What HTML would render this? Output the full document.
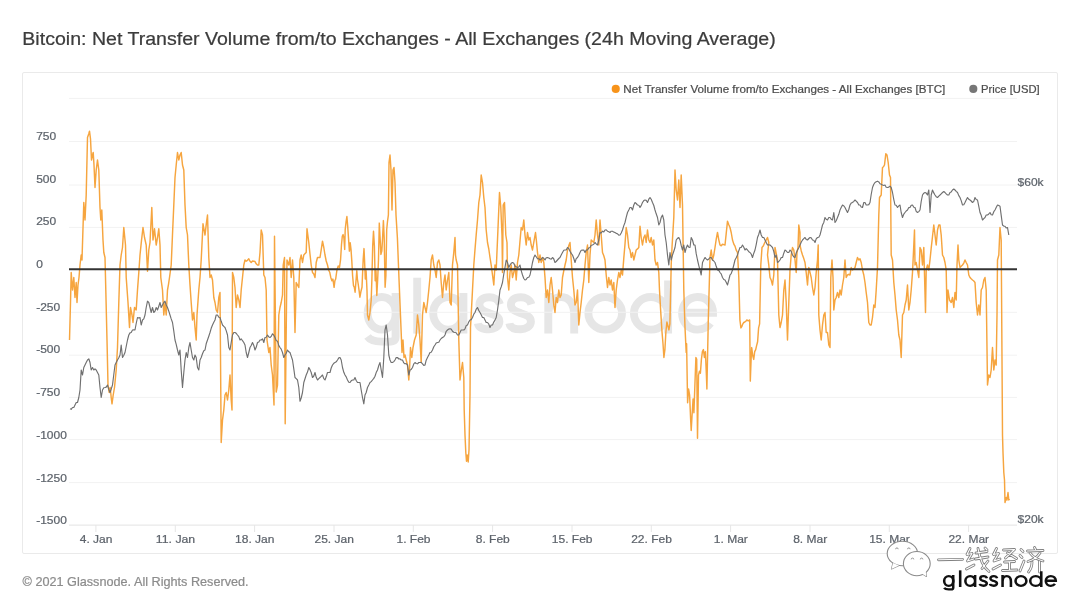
<!DOCTYPE html>
<html><head><meta charset="utf-8">
<style>
html,body{margin:0;padding:0;background:#fff;width:1080px;height:608px;overflow:hidden;font-family:"Liberation Sans",sans-serif;}
#box{position:absolute;left:22px;top:72px;width:1036px;height:482px;border:1px solid #eaeaea;border-radius:2px;box-sizing:border-box;}
svg{position:absolute;left:0;top:0;}
body{filter:blur(0.45px);}
</style></head><body>
<div id="box"></div>
<svg width="1080" height="608" viewBox="0 0 1080 608" font-family="Liberation Sans, sans-serif">
<style>text{stroke:currentColor;stroke-width:0.22px;}</style>
<g fill="none" stroke="#e6e6e6" stroke-width="7.9"><path d="M395.6,293 V337 C395.6,343 389,341.6 381.5,341.6 C375,341.6 370,340 367.5,336.5"/><path d="M367.6,313.3 a14.2,16.3 0 1 0 28.4,0 a14.2,16.3 0 1 0 -28.4,0"/><path d="M417.2,277.7 V333.6"/><path d="M463.4,293 V333.6 M433.2,313.3 a15.1,16.3 0 1 0 30.2,0 a15.1,16.3 0 1 0 -30.2,0"/><path d="M499.9,304.3 C498.4,299.3 493.4,297.3 489.4,297.3 C482.4,297.3 479.4,300.3 479.4,304.8 C479.4,310.3 485.4,311.8 489.4,313.3 C494.4,314.8 499.4,316.3 499.4,321.8 C499.4,326.8 493.4,329.3 489.4,329.3 C481.4,329.3 478.4,326.3 477.9,323.3"/><path d="M531.4,304.3 C529.9,299.3 524.9,297.3 520.9,297.3 C513.9,297.3 510.9,300.3 510.9,304.8 C510.9,310.3 516.9,311.8 520.9,313.3 C525.9,314.8 530.9,316.3 530.9,321.8 C530.9,326.8 524.9,329.3 520.9,329.3 C512.9,329.3 509.9,326.3 509.4,323.3"/><path d="M548.3,293 V333.6 M548.3,315.3 C548.3,303.3 554,297.0 561.2,297.0 C568.5,297.0 574.2,303.3 574.2,315.3 V333.6"/><path d="M588.4000000000001,313.3 a16.8,16.3 0 1 0 33.6,0 a16.8,16.3 0 1 0 -33.6,0"/><path d="M668.1,280.5 V333.6 M633.9,313.3 a17,16.3 0 1 0 34,0 a17,16.3 0 1 0 -34,0"/><path d="M681.9,312.8 H713 C713,303.3 706,297.0 697.45,297.0 C688.5,297.0 682.1,304.3 682.1,313.3 C682.1,322.3 688.5,329.6 697.45,329.6 C703.5,329.6 708,326.8 710.5,323.3"/></g>
<line x1="69" x2="1017" y1="98.4" y2="98.4" stroke="#f2f2f2" stroke-width="1"/>
<line x1="69" x2="1017" y1="141.5" y2="141.5" stroke="#f2f2f2" stroke-width="1"/>
<line x1="69" x2="1017" y1="185.0" y2="185.0" stroke="#f2f2f2" stroke-width="1"/>
<line x1="69" x2="1017" y1="227.4" y2="227.4" stroke="#f2f2f2" stroke-width="1"/>
<line x1="69" x2="1017" y1="312.3" y2="312.3" stroke="#f2f2f2" stroke-width="1"/>
<line x1="69" x2="1017" y1="355.2" y2="355.2" stroke="#f2f2f2" stroke-width="1"/>
<line x1="69" x2="1017" y1="397.4" y2="397.4" stroke="#f2f2f2" stroke-width="1"/>
<line x1="69" x2="1017" y1="439.6" y2="439.6" stroke="#f2f2f2" stroke-width="1"/>
<line x1="69" x2="1017" y1="482.6" y2="482.6" stroke="#f2f2f2" stroke-width="1"/>
<line x1="69" x2="1017" y1="525.1" y2="525.1" stroke="#e3e3e3" stroke-width="1"/>
<line x1="95.9" x2="95.9" y1="525" y2="532" stroke="#e6e6e6" stroke-width="1"/>
<line x1="175.3" x2="175.3" y1="525" y2="532" stroke="#e6e6e6" stroke-width="1"/>
<line x1="254.6" x2="254.6" y1="525" y2="532" stroke="#e6e6e6" stroke-width="1"/>
<line x1="334.0" x2="334.0" y1="525" y2="532" stroke="#e6e6e6" stroke-width="1"/>
<line x1="413.3" x2="413.3" y1="525" y2="532" stroke="#e6e6e6" stroke-width="1"/>
<line x1="492.6" x2="492.6" y1="525" y2="532" stroke="#e6e6e6" stroke-width="1"/>
<line x1="572.0" x2="572.0" y1="525" y2="532" stroke="#e6e6e6" stroke-width="1"/>
<line x1="651.3" x2="651.3" y1="525" y2="532" stroke="#e6e6e6" stroke-width="1"/>
<line x1="730.6" x2="730.6" y1="525" y2="532" stroke="#e6e6e6" stroke-width="1"/>
<line x1="810.0" x2="810.0" y1="525" y2="532" stroke="#e6e6e6" stroke-width="1"/>
<line x1="889.3" x2="889.3" y1="525" y2="532" stroke="#e6e6e6" stroke-width="1"/>
<line x1="968.6" x2="968.6" y1="525" y2="532" stroke="#e6e6e6" stroke-width="1"/>
<text x="36.2" y="139.99" font-size="11.3" fill="#5d636b" color="#5d636b" textLength="20.02" lengthAdjust="spacingAndGlyphs">750</text>
<text x="36.2" y="182.68" font-size="11.3" fill="#5d636b" color="#5d636b" textLength="20.02" lengthAdjust="spacingAndGlyphs">500</text>
<text x="36.2" y="225.37" font-size="11.3" fill="#5d636b" color="#5d636b" textLength="20.02" lengthAdjust="spacingAndGlyphs">250</text>
<text x="36.2" y="268.06" font-size="11.3" fill="#5d636b" color="#5d636b" textLength="6.67" lengthAdjust="spacingAndGlyphs">0</text>
<text x="36.2" y="310.75" font-size="11.3" fill="#5d636b" color="#5d636b" textLength="24.02" lengthAdjust="spacingAndGlyphs">-250</text>
<text x="36.2" y="353.44" font-size="11.3" fill="#5d636b" color="#5d636b" textLength="24.02" lengthAdjust="spacingAndGlyphs">-500</text>
<text x="36.2" y="396.13" font-size="11.3" fill="#5d636b" color="#5d636b" textLength="24.02" lengthAdjust="spacingAndGlyphs">-750</text>
<text x="36.2" y="438.82" font-size="11.3" fill="#5d636b" color="#5d636b" textLength="30.69" lengthAdjust="spacingAndGlyphs">-1000</text>
<text x="36.2" y="481.51" font-size="11.3" fill="#5d636b" color="#5d636b" textLength="30.69" lengthAdjust="spacingAndGlyphs">-1250</text>
<text x="36.2" y="524.20" font-size="11.3" fill="#5d636b" color="#5d636b" textLength="30.69" lengthAdjust="spacingAndGlyphs">-1500</text>
<text x="79.76" y="542.9" font-size="11.3" fill="#5d636b" color="#5d636b" textLength="32.69" lengthAdjust="spacingAndGlyphs">4. Jan</text>
<text x="155.82" y="542.9" font-size="11.3" fill="#5d636b" color="#5d636b" textLength="39.36" lengthAdjust="spacingAndGlyphs">11. Jan</text>
<text x="235.12" y="542.9" font-size="11.3" fill="#5d636b" color="#5d636b" textLength="39.36" lengthAdjust="spacingAndGlyphs">18. Jan</text>
<text x="314.52" y="542.9" font-size="11.3" fill="#5d636b" color="#5d636b" textLength="39.36" lengthAdjust="spacingAndGlyphs">25. Jan</text>
<text x="396.49" y="542.9" font-size="11.3" fill="#5d636b" color="#5d636b" textLength="34.02" lengthAdjust="spacingAndGlyphs">1. Feb</text>
<text x="475.79" y="542.9" font-size="11.3" fill="#5d636b" color="#5d636b" textLength="34.02" lengthAdjust="spacingAndGlyphs">8. Feb</text>
<text x="551.85" y="542.9" font-size="11.3" fill="#5d636b" color="#5d636b" textLength="40.69" lengthAdjust="spacingAndGlyphs">15. Feb</text>
<text x="631.15" y="542.9" font-size="11.3" fill="#5d636b" color="#5d636b" textLength="40.69" lengthAdjust="spacingAndGlyphs">22. Feb</text>
<text x="713.80" y="542.9" font-size="11.3" fill="#5d636b" color="#5d636b" textLength="34.01" lengthAdjust="spacingAndGlyphs">1. Mar</text>
<text x="793.20" y="542.9" font-size="11.3" fill="#5d636b" color="#5d636b" textLength="34.01" lengthAdjust="spacingAndGlyphs">8. Mar</text>
<text x="869.16" y="542.9" font-size="11.3" fill="#5d636b" color="#5d636b" textLength="40.68" lengthAdjust="spacingAndGlyphs">15. Mar</text>
<text x="948.46" y="542.9" font-size="11.3" fill="#5d636b" color="#5d636b" textLength="40.68" lengthAdjust="spacingAndGlyphs">22. Mar</text>
<text x="1017.6" y="185.6" font-size="11.3" fill="#5d636b" color="#5d636b" textLength="26.02" lengthAdjust="spacingAndGlyphs">$60k</text>
<text x="1017.6" y="523.3" font-size="11.3" fill="#5d636b" color="#5d636b" textLength="26.02" lengthAdjust="spacingAndGlyphs">$20k</text>
<text x="22.3" y="44.6" font-size="18" fill="#3c3c3c" color="#3c3c3c" textLength="753.4" lengthAdjust="spacingAndGlyphs">Bitcoin: Net Transfer Volume from/to Exchanges - All Exchanges (24h Moving Average)</text>
<text x="22.6" y="586.1" font-size="12.6" fill="#8c8c8c" color="#8c8c8c" textLength="226" lengthAdjust="spacingAndGlyphs">© 2021 Glassnode. All Rights Reserved.</text>
<circle cx="615.75" cy="88.9" r="4.05" fill="#f7931a"/>
<text x="623.3" y="92.8" font-size="10.7" fill="#4d4d4d" color="#4d4d4d" textLength="322" lengthAdjust="spacingAndGlyphs">Net Transfer Volume from/to Exchanges - All Exchanges [BTC]</text>
<circle cx="973.3" cy="88.9" r="4.05" fill="#767676"/>
<text x="981" y="92.8" font-size="10.7" fill="#4d4d4d" color="#4d4d4d" textLength="58.6" lengthAdjust="spacingAndGlyphs">Price [USD]</text>
<path d="M69.5,340.0 L70.5,302.5 L71.2,272.5 L72.5,290.0 L73.8,277.5 L75.0,297.5 L76.2,282.5 L77.0,302.5 L78.0,285.0 L79.0,277.5 L80.0,265.0 L81.2,255.0 L82.0,260.0 L83.8,202.5 L85.0,220.0 L86.2,195.0 L87.5,137.5 L88.8,133.8 L89.5,131.2 L90.5,138.8 L91.5,160.0 L92.5,155.0 L93.2,152.5 L94.0,165.0 L95.0,187.5 L96.2,170.0 L97.5,160.0 L98.8,170.0 L100.0,207.5 L100.8,220.0 L101.8,210.0 L103.0,240.0 L103.8,252.5 L105.0,257.5 L105.8,290.0 L107.0,340.0 L108.0,385.0 L109.2,392.5 L110.2,387.5 L111.2,397.5 L112.0,403.8 L113.2,395.0 L114.5,387.5 L116.2,370.0 L117.5,347.5 L118.8,302.5 L120.0,265.0 L121.2,255.0 L122.5,247.5 L123.8,227.5 L125.5,245.0 L126.2,277.5 L128.0,302.5 L129.5,327.5 L130.5,307.5 L132.0,315.0 L133.0,322.5 L134.5,307.5 L136.2,310.0 L137.5,290.0 L138.8,272.5 L140.0,255.0 L141.5,240.4 L143.0,227.5 L144.5,237.5 L146.2,245.0 L147.5,271.2 L148.8,250.0 L150.0,242.5 L151.8,207.5 L153.0,240.0 L154.5,228.8 L156.2,245.0 L157.5,237.6 L158.8,228.8 L160.0,245.0 L160.8,277.5 L162.5,290.0 L163.8,315.0 L165.0,302.5 L166.2,315.0 L167.5,290.0 L168.5,284.3 L169.5,277.5 L171.2,265.0 L172.5,234.5 L173.8,205.0 L175.0,177.5 L176.2,165.0 L177.5,152.5 L178.8,160.0 L180.0,155.0 L181.2,152.5 L182.5,165.0 L183.8,170.0 L185.0,205.0 L186.2,227.5 L187.5,235.0 L188.8,265.0 L190.0,285.0 L191.2,302.5 L192.5,320.0 L193.8,312.5 L195.0,327.5 L196.2,340.0 L197.0,315.0 L198.8,290.0 L200.0,277.5 L201.2,260.0 L203.0,223.8 L204.0,229.4 L205.0,235.0 L206.2,224.9 L207.5,215.0 L208.8,257.5 L210.0,277.5 L211.2,275.0 L212.5,280.0 L213.8,297.5 L215.0,302.5 L216.2,310.0 L217.5,312.5 L218.8,297.5 L220.0,292.5 L221.2,442.5 L222.5,420.0 L223.8,410.0 L225.0,395.0 L226.2,392.5 L227.5,400.0 L228.8,390.0 L230.0,375.0 L231.2,400.0 L232.0,410.0 L232.5,272.5 L233.8,277.5 L235.0,287.5 L236.2,307.5 L237.5,295.0 L238.8,300.0 L240.0,307.5 L241.2,290.0 L242.5,277.5 L243.8,265.0 L245.0,260.0 L246.2,261.2 L247.5,260.3 L248.8,258.8 L250.0,261.3 L251.2,262.5 L252.5,261.0 L253.8,261.2 L255.0,261.5 L256.2,263.8 L257.5,265.1 L258.8,265.0 L260.0,252.5 L261.2,230.0 L262.5,235.0 L263.8,275.0 L265.0,277.5 L266.2,290.0 L267.0,340.0 L268.8,352.5 L270.0,347.5 L271.2,365.0 L272.5,375.0 L274.0,405.0 L274.5,236.2 L276.2,392.0 L277.5,385.0 L278.8,315.0 L280.0,307.5 L281.2,302.5 L282.5,295.0 L283.2,265.0 L284.5,257.5 L285.2,423.8 L287.0,260.0 L288.8,265.0 L290.0,257.5 L291.2,277.5 L292.5,260.0 L293.8,277.5 L295.0,332.5 L296.2,282.5 L297.5,285.0 L298.8,287.5 L300.0,260.0 L301.2,255.0 L302.5,262.5 L303.8,255.0 L305.0,253.6 L306.2,252.5 L307.0,228.8 L308.8,242.5 L310.0,254.3 L311.2,265.0 L312.5,272.5 L313.8,273.9 L315.0,277.5 L316.2,262.5 L317.5,257.5 L318.8,257.4 L320.0,257.5 L321.2,249.9 L322.5,241.2 L323.8,247.5 L325.0,255.0 L326.2,261.0 L327.5,265.0 L328.6,270.0 L329.7,272.2 L330.8,277.4 L331.9,280.7 L332.9,279.0 L334.1,287.3 L334.9,280.7 L335.7,279.0 L336.8,270.8 L338.2,265.9 L339.5,267.5 L340.6,259.3 L341.5,244.5 L342.3,236.3 L343.1,234.6 L343.9,237.9 L344.7,249.4 L345.2,229.7 L346.1,221.5 L346.9,216.5 L347.7,226.4 L348.5,237.9 L349.4,251.1 L350.2,242.8 L351.0,249.4 L351.8,260.9 L352.6,275.8 L353.5,285.6 L354.3,287.3 L355.1,292.2 L355.9,282.3 L356.8,270.8 L357.4,279.0 L358.2,284.0 L359.1,290.6 L359.9,297.2 L361.0,291.2 L362.0,287.3 L363.2,259.3 L364.0,248.6 L364.5,259.3 L365.3,279.0 L366.1,270.8 L367.0,290.6 L367.5,315.0 L368.8,320.0 L370.0,312.5 L371.2,300.0 L371.9,279.0 L372.7,246.1 L373.5,231.3 L374.4,246.1 L375.2,280.7 L376.0,270.8 L376.8,295.5 L377.7,279.0 L378.5,259.3 L379.3,223.1 L380.1,237.9 L380.9,254.4 L381.8,251.1 L382.6,237.9 L383.4,220.6 L384.2,237.9 L385.1,287.3 L385.9,275.8 L386.7,229.7 L387.5,221.5 L388.4,214.9 L389.0,162.5 L390.0,155.0 L391.0,170.0 L392.0,210.0 L393.0,170.0 L394.0,167.5 L395.0,182.5 L396.0,215.0 L397.4,237.9 L399.0,279.0 L400.5,315.9 L402.0,352.5 L403.0,340.0 L404.0,357.5 L405.0,355.0 L406.2,360.0 L407.5,365.0 L408.8,380.0 L409.5,370.0 L410.5,347.5 L411.8,357.5 L413.0,347.5 L414.5,340.0 L416.2,335.0 L417.5,315.0 L418.8,325.0 L420.0,340.0 L421.2,362.5 L422.5,315.0 L423.8,302.5 L425.0,307.5 L426.2,312.5 L427.5,302.5 L428.8,290.0 L430.0,277.5 L431.2,260.0 L432.5,255.0 L433.8,265.0 L435.0,270.0 L436.2,277.5 L437.5,262.5 L438.8,260.0 L440.0,265.0 L441.2,282.5 L442.5,297.5 L443.8,282.5 L445.0,275.0 L446.2,290.0 L447.5,280.0 L448.8,272.5 L450.0,302.5 L451.2,305.0 L452.5,265.0 L453.8,252.2 L455.0,237.5 L455.5,255.0 L456.2,260.0 L457.5,265.0 L458.8,340.0 L460.0,380.0 L461.2,371.0 L462.5,362.5 L463.8,377.5 L464.2,410.0 L465.0,435.0 L465.8,452.5 L466.5,461.2 L467.2,455.0 L468.2,462.0 L469.0,450.0 L469.5,422.5 L470.0,395.0 L470.5,327.5 L471.2,315.0 L472.5,290.0 L473.8,265.0 L475.0,249.4 L476.2,234.8 L477.5,220.0 L478.8,202.5 L480.0,195.0 L481.2,175.0 L482.5,182.5 L483.8,197.5 L485.0,207.5 L486.2,230.0 L487.5,242.5 L488.8,249.0 L490.0,257.5 L491.2,265.0 L492.5,275.0 L493.8,285.0 L495.0,265.0 L496.2,270.0 L497.9,230.6 L499.5,192.5 L500.8,207.5 L502.0,235.0 L502.5,272.5 L503.2,205.0 L504.5,202.5 L505.8,235.0 L507.0,242.5 L507.5,277.5 L508.8,290.0 L510.0,272.5 L511.2,265.0 L512.5,277.5 L513.8,272.5 L515.0,265.0 L516.2,280.0 L517.5,262.5 L518.8,255.0 L520.0,241.1 L521.2,227.5 L522.5,230.0 L523.8,220.0 L525.0,235.0 L526.2,245.0 L527.5,232.5 L528.8,240.0 L530.0,237.5 L531.2,245.0 L532.5,250.0 L534.0,241.2 L535.5,232.5 L536.5,241.9 L537.5,252.5 L538.8,262.5 L540.0,255.0 L541.2,262.5 L542.5,257.5 L543.8,262.5 L545.0,277.5 L546.2,297.5 L547.5,290.0 L548.8,302.5 L550.0,285.0 L551.2,277.5 L552.5,290.0 L553.8,305.0 L555.0,312.5 L556.2,297.5 L557.5,302.5 L558.8,290.0 L560.0,297.5 L561.2,295.0 L562.5,277.5 L563.8,270.7 L565.0,265.0 L566.2,260.0 L567.5,250.0 L568.8,245.6 L570.0,242.5 L571.2,260.0 L572.5,277.5 L573.8,290.0 L575.0,305.0 L576.2,302.5 L577.5,290.0 L578.8,325.0 L580.0,312.5 L581.2,302.5 L582.5,290.0 L583.8,280.0 L585.0,265.0 L586.2,252.5 L587.5,245.0 L588.8,282.5 L590.0,255.0 L591.2,240.0 L592.5,241.2 L593.8,242.5 L595.0,235.0 L596.2,220.0 L597.5,235.0 L598.8,245.0 L600.0,220.0 L601.2,235.0 L602.5,252.5 L603.8,255.8 L605.0,260.0 L606.2,275.0 L607.5,287.5 L608.8,277.5 L610.0,285.0 L611.2,280.0 L612.5,290.0 L613.8,282.5 L615.0,307.5 L616.2,290.0 L617.5,280.0 L618.8,272.5 L620.0,277.5 L621.2,270.0 L622.5,275.0 L623.8,258.1 L625.0,244.1 L626.2,227.5 L627.5,235.0 L628.8,247.5 L630.0,250.0 L631.2,257.5 L632.5,252.5 L633.8,260.0 L635.0,255.0 L636.2,250.0 L637.5,248.9 L638.8,247.5 L640.0,226.2 L641.2,237.5 L642.5,245.0 L643.8,237.5 L645.0,235.0 L646.2,242.5 L647.5,230.0 L648.8,240.0 L650.0,242.5 L651.2,237.5 L652.5,245.0 L653.8,240.0 L655.0,260.0 L656.2,265.0 L657.5,262.5 L658.8,272.5 L659.5,290.0 L660.7,311.2 L662.0,331.8 L663.0,343.7 L663.9,357.5 L664.9,349.6 L665.9,331.8 L666.9,322.0 L667.9,325.9 L668.9,329.9 L669.9,323.9 L671.2,265.0 L672.0,247.5 L673.8,217.5 L675.0,170.0 L676.2,190.0 L677.5,200.0 L678.8,180.0 L680.0,207.5 L681.2,175.0 L682.5,205.0 L683.8,290.0 L685.0,327.5 L686.2,352.5 L686.6,343.7 L687.2,379.2 L687.6,402.8 L688.6,389.0 L689.6,395.0 L690.6,418.6 L691.2,430.5 L692.1,414.7 L693.1,398.9 L693.9,412.7 L695.1,379.2 L695.9,357.5 L696.7,359.4 L697.5,438.3 L698.5,375.2 L699.4,371.3 L700.4,373.3 L701.4,359.4 L702.4,351.6 L703.4,349.6 L704.4,357.5 L705.4,351.6 L706.4,375.2 L706.9,389.0 L707.7,349.6 L708.3,320.0 L710.0,257.5 L711.2,250.0 L712.5,260.0 L713.8,255.0 L715.0,247.5 L716.2,239.3 L717.5,232.5 L718.8,239.8 L720.0,245.0 L721.2,245.8 L722.5,244.2 L723.8,244.6 L725.0,245.0 L726.2,233.6 L727.5,221.2 L728.8,224.8 L730.0,227.5 L731.2,232.5 L732.5,240.0 L733.8,244.1 L735.0,246.1 L736.2,250.1 L737.5,252.5 L738.8,277.5 L739.9,320.0 L740.9,327.9 L741.9,326.3 L742.8,323.9 L743.8,322.5 L744.8,322.0 L745.8,321.2 L746.8,320.0 L748.3,320.8 L749.7,320.0 L750.3,381.1 L751.1,359.4 L751.7,347.6 L752.7,355.5 L753.7,359.4 L754.7,351.6 L755.7,349.6 L756.6,345.6 L757.6,341.7 L758.6,327.9 L759.6,323.9 L760.8,265.0 L762.0,247.5 L763.4,245.8 L764.8,242.5 L766.1,240.2 L767.5,237.5 L768.8,242.5 L767.5,255.0 L768.8,265.2 L770.0,277.5 L771.2,280.0 L772.5,285.0 L773.8,275.0 L775.0,247.5 L776.2,253.2 L777.5,260.0 L778.8,315.0 L780.0,327.5 L781.2,322.5 L782.5,315.0 L783.8,290.0 L785.0,280.0 L786.2,302.5 L787.5,340.0 L788.8,302.5 L790.0,270.0 L791.2,255.0 L792.5,247.5 L793.8,250.0 L795.0,260.0 L796.2,272.5 L797.0,252.5 L798.0,247.5 L798.8,225.0 L800.0,232.5 L800.0,245.0 L801.2,250.7 L802.5,255.0 L803.8,258.6 L805.0,262.5 L806.2,272.5 L807.5,285.0 L808.8,267.5 L810.0,272.5 L811.2,277.5 L812.5,287.5 L813.8,295.0 L815.0,287.5 L816.2,272.5 L817.5,260.0 L818.2,245.0 L818.8,315.0 L820.0,330.0 L821.2,340.0 L822.5,325.0 L823.8,315.0 L825.0,312.5 L826.2,332.5 L827.5,332.5 L828.8,345.0 L830.0,347.5 L830.8,277.5 L832.0,260.0 L833.0,277.5 L833.8,310.0 L835.0,300.0 L836.2,297.5 L837.5,292.5 L838.8,297.5 L840.0,290.0 L841.2,295.0 L842.5,285.0 L843.8,277.5 L845.0,260.0 L846.2,277.5 L847.5,275.0 L848.8,274.3 L850.0,275.0 L851.2,267.5 L852.5,270.0 L853.8,268.9 L855.0,267.5 L856.2,262.5 L857.5,257.5 L858.8,260.0 L860.0,258.8 L861.2,262.5 L862.5,270.0 L863.8,275.0 L865.0,282.5 L866.2,292.5 L867.5,302.5 L868.8,322.5 L870.0,325.0 L871.2,325.0 L872.5,317.5 L873.8,305.0 L875.0,307.5 L876.2,290.0 L877.5,267.5 L878.8,215.0 L879.5,197.5 L881.2,195.0 L882.5,167.5 L883.5,166.7 L884.5,165.0 L885.8,153.8 L887.0,155.0 L888.2,162.5 L889.5,175.0 L890.5,177.5 L891.2,255.0 L892.5,260.0 L893.8,282.5 L895.0,295.0 L896.2,310.0 L897.5,320.0 L898.8,335.0 L900.0,340.0 L901.2,357.5 L902.5,315.0 L903.8,312.5 L905.0,305.0 L906.2,300.0 L907.5,285.0 L908.8,310.0 L910.0,302.5 L911.2,290.0 L912.5,272.5 L913.5,251.6 L914.5,230.0 L915.0,265.0 L916.2,262.5 L917.5,270.0 L918.8,277.5 L920.0,247.5 L921.2,250.0 L922.5,265.0 L923.8,247.5 L925.5,312.5 L926.2,270.0 L927.5,265.0 L928.8,270.0 L930.0,260.0 L931.2,248.1 L932.5,236.5 L933.8,225.0 L935.0,235.0 L936.2,245.0 L937.5,230.0 L938.8,225.0 L940.0,225.0 L941.2,235.0 L942.5,255.0 L943.8,257.5 L945.0,262.5 L946.2,270.0 L947.0,312.5 L948.0,290.0 L949.5,300.0 L951.2,302.5 L952.5,297.5 L953.8,307.5 L955.0,292.5 L956.2,300.0 L957.0,265.0 L958.0,245.0 L958.8,260.0 L960.0,267.5 L961.2,266.3 L962.5,265.0 L963.8,263.1 L965.0,260.0 L966.2,262.5 L967.5,265.0 L968.8,275.0 L970.0,277.5 L971.2,278.8 L972.5,280.0 L973.8,281.0 L975.0,282.5 L976.2,302.5 L977.5,315.0 L978.8,305.0 L980.0,315.0 L981.2,290.0 L982.5,287.5 L983.8,280.0 L985.0,277.5 L986.2,290.0 L987.5,385.0 L988.8,375.0 L990.0,377.5 L991.2,370.0 L992.5,347.5 L993.8,370.0 L995.0,360.0 L996.2,365.0 L997.0,315.0 L997.5,260.0 L998.8,255.0 L1000.0,227.5 L1001.2,240.0 L1002.5,435.0 L1003.0,452.5 L1003.8,472.5 L1004.5,480.0 L1005.0,502.5 L1006.2,497.5 L1007.0,500.0 L1008.0,492.5 L1008.8,500.0 L1009.5,498.8" fill="none" stroke="#f6a53f" stroke-width="1.45" stroke-linejoin="round"/>
<path d="M70.0,408.8 L71.2,409.3 L72.5,407.5 L73.8,407.4 L75.0,405.0 L76.2,402.6 L77.5,402.5 L78.8,397.5 L80.0,390.0 L81.2,370.0 L82.5,375.0 L83.8,367.5 L85.0,365.0 L86.2,362.5 L87.5,360.0 L88.8,358.8 L90.0,362.5 L91.2,370.0 L92.5,367.5 L93.8,370.0 L95.0,368.8 L96.2,370.0 L97.5,372.5 L98.8,375.0 L100.0,387.5 L101.2,397.5 L102.5,390.0 L103.8,387.7 L105.0,387.5 L106.2,387.1 L107.5,385.0 L108.8,389.4 L110.0,392.5 L111.2,389.2 L112.5,385.0 L113.8,374.5 L115.0,365.0 L116.2,362.5 L117.5,360.0 L118.8,357.8 L120.0,355.0 L121.2,345.0 L122.5,357.5 L123.8,355.3 L125.0,352.5 L126.2,346.5 L127.5,340.0 L128.8,335.0 L130.0,332.9 L131.2,332.5 L132.5,330.0 L133.8,329.8 L135.0,330.0 L136.2,323.5 L137.5,317.5 L138.8,318.1 L140.0,317.5 L141.2,325.0 L142.5,320.0 L143.8,318.8 L145.0,315.0 L146.2,307.5 L147.5,301.2 L148.8,302.5 L150.0,307.5 L151.2,312.5 L152.5,307.5 L153.8,312.5 L155.0,311.2 L156.2,307.5 L157.5,310.0 L158.8,306.2 L160.0,302.5 L161.2,307.5 L162.5,305.0 L163.8,302.5 L165.0,301.2 L166.2,305.0 L167.5,307.5 L168.8,311.2 L170.0,315.0 L171.2,318.9 L172.5,322.5 L173.8,331.1 L175.0,340.0 L176.2,344.4 L177.5,350.0 L178.8,355.0 L180.0,350.0 L181.2,370.0 L182.5,387.5 L183.8,372.5 L185.0,360.0 L186.2,352.5 L187.5,357.5 L188.8,347.5 L190.0,342.5 L191.2,350.0 L192.5,357.5 L193.8,360.0 L195.0,355.0 L196.2,357.5 L197.5,367.5 L198.8,370.0 L200.0,360.0 L201.2,357.5 L202.5,353.8 L203.8,350.7 L205.0,350.0 L206.2,343.8 L207.5,340.0 L208.8,336.2 L210.0,332.5 L211.2,328.3 L212.5,325.0 L213.8,322.2 L215.0,320.0 L216.2,315.0 L217.5,315.0 L218.8,317.3 L220.0,317.5 L221.2,321.3 L222.5,325.0 L223.8,326.4 L225.0,327.5 L226.2,330.6 L227.5,335.0 L228.8,347.5 L230.0,350.0 L231.2,342.5 L232.5,335.0 L233.8,332.5 L235.0,332.5 L236.2,333.3 L237.5,335.0 L238.8,336.6 L240.0,340.0 L241.2,338.8 L242.5,340.7 L243.8,342.5 L245.0,345.0 L246.2,352.5 L247.5,357.5 L248.8,352.5 L250.0,347.5 L251.2,345.5 L252.5,342.5 L253.8,345.4 L255.0,350.0 L256.2,347.3 L257.5,342.5 L258.8,342.0 L260.0,340.0 L261.2,340.0 L262.5,338.8 L263.8,342.5 L265.0,337.5 L266.2,337.3 L267.5,335.0 L268.8,336.9 L270.0,337.5 L271.2,336.4 L272.5,333.8 L273.8,335.2 L275.0,337.5 L276.2,340.6 L277.5,341.2 L278.8,345.6 L280.0,347.5 L281.2,349.1 L282.5,352.5 L283.8,357.5 L285.0,355.0 L286.2,353.2 L287.5,350.0 L288.8,351.8 L290.0,352.5 L291.2,356.1 L292.5,360.0 L293.8,368.8 L295.0,377.5 L296.2,378.7 L297.5,380.0 L298.8,387.5 L300.0,401.2 L301.2,398.0 L302.5,392.5 L303.8,382.5 L305.0,378.8 L306.2,375.0 L307.5,372.1 L308.8,367.5 L310.0,369.6 L311.2,372.5 L312.5,377.5 L313.8,376.0 L315.0,372.5 L316.2,377.3 L317.5,380.0 L318.8,378.6 L320.0,377.5 L321.2,376.4 L322.5,375.0 L323.8,378.6 L325.0,380.0 L326.2,376.8 L327.5,372.5 L328.8,372.5 L330.0,372.5 L331.2,368.0 L332.5,365.0 L333.8,363.3 L335.0,362.5 L336.2,361.8 L337.5,360.0 L338.8,357.9 L340.0,357.5 L341.2,360.0 L342.5,367.5 L343.8,372.3 L345.0,375.0 L346.2,376.9 L347.5,380.0 L348.8,382.3 L350.0,382.5 L351.2,380.8 L352.5,380.0 L353.8,379.9 L355.0,377.5 L356.2,380.5 L357.5,382.5 L358.8,382.5 L360.0,382.5 L361.2,390.0 L362.5,397.5 L363.8,403.8 L365.0,395.0 L366.2,392.5 L367.5,387.5 L368.8,385.0 L370.0,382.5 L371.2,381.6 L372.5,380.0 L373.8,378.4 L375.0,376.2 L376.2,372.6 L377.5,370.0 L378.8,365.5 L380.0,362.5 L381.2,370.0 L382.5,377.5 L383.8,357.5 L385.0,330.0 L386.2,325.0 L387.5,335.0 L388.8,355.0 L390.0,360.0 L391.2,362.4 L392.5,362.5 L393.8,361.6 L395.0,360.0 L396.2,357.6 L397.5,357.5 L398.8,359.0 L400.0,358.8 L401.2,360.0 L402.5,360.0 L403.8,362.9 L405.0,363.8 L406.2,363.6 L407.5,365.0 L408.8,375.0 L410.0,370.0 L411.2,369.4 L412.5,367.5 L413.8,363.9 L415.0,362.5 L416.2,363.5 L417.5,363.8 L418.8,362.5 L420.0,362.5 L421.2,362.4 L422.5,363.8 L423.8,365.4 L425.0,365.0 L426.2,360.2 L427.5,357.5 L428.8,355.1 L430.0,352.5 L431.2,352.2 L432.5,350.0 L433.8,346.8 L435.0,345.0 L436.2,343.0 L437.5,342.5 L438.8,342.2 L440.0,340.0 L441.2,338.5 L442.5,337.5 L443.8,336.8 L445.0,335.0 L446.2,331.3 L447.5,330.0 L448.8,329.0 L450.0,328.8 L451.2,329.1 L452.5,331.2 L453.8,332.3 L455.0,332.5 L456.2,332.7 L457.5,335.0 L458.8,334.9 L460.0,332.5 L461.2,330.0 L462.5,330.0 L463.8,330.0 L465.0,328.8 L466.2,325.6 L467.5,325.0 L468.8,321.9 L470.0,320.0 L471.2,319.6 L472.5,317.5 L473.8,314.1 L475.0,312.5 L476.2,309.2 L477.5,307.5 L478.8,310.5 L480.0,312.5 L481.2,314.7 L482.5,317.5 L483.8,317.6 L485.0,320.0 L486.2,322.5 L487.5,322.5 L488.8,324.1 L490.0,327.5 L491.2,325.0 L492.5,325.0 L493.8,322.1 L495.0,320.0 L496.2,317.5 L497.5,310.0 L498.8,300.3 L500.0,290.0 L501.2,286.9 L502.5,282.5 L503.8,274.0 L505.0,267.5 L506.2,260.0 L507.5,262.5 L508.8,267.5 L510.0,265.0 L511.2,263.3 L512.5,262.5 L513.8,263.2 L515.0,266.2 L516.2,266.7 L517.5,267.5 L518.8,266.9 L520.0,265.0 L521.2,270.6 L522.5,275.0 L523.8,278.5 L525.0,280.0 L526.2,279.4 L527.5,277.5 L528.8,277.2 L530.0,275.0 L531.2,269.3 L532.5,262.5 L533.8,257.5 L535.0,255.0 L536.2,256.8 L537.5,258.8 L538.8,258.7 L540.0,260.0 L541.2,259.2 L542.5,257.5 L543.8,258.3 L545.0,260.0 L546.2,257.7 L547.5,257.5 L548.8,258.0 L550.0,258.8 L551.2,259.1 L552.5,257.5 L553.8,259.0 L555.0,262.5 L556.2,261.5 L557.5,260.0 L558.8,258.5 L560.0,257.5 L561.2,255.0 L562.5,252.5 L563.8,250.3 L565.0,250.0 L566.2,249.9 L567.5,247.5 L568.8,248.7 L570.0,251.2 L571.2,253.4 L572.5,255.0 L573.8,258.5 L575.0,262.5 L576.2,258.7 L577.5,257.5 L578.8,255.2 L580.0,252.5 L581.2,250.3 L582.5,250.0 L583.8,250.1 L585.0,252.5 L586.2,250.0 L587.5,250.0 L588.8,247.9 L590.0,247.5 L591.2,245.2 L592.5,245.0 L593.8,244.1 L595.0,242.5 L596.2,243.8 L597.5,245.0 L598.8,240.0 L600.0,232.5 L601.2,233.0 L602.5,231.2 L603.8,231.9 L605.0,230.0 L606.2,229.9 L607.5,231.2 L608.8,231.7 L610.0,232.5 L611.2,231.2 L612.5,231.2 L613.8,232.1 L615.0,232.5 L616.2,233.4 L617.5,233.8 L618.8,235.2 L620.0,235.0 L621.2,233.0 L622.5,230.0 L623.8,225.6 L625.0,222.5 L626.2,217.3 L627.5,212.5 L628.8,210.1 L630.0,207.5 L631.2,207.5 L632.5,210.0 L633.8,205.0 L635.0,202.5 L636.2,203.5 L637.5,205.0 L638.8,205.2 L640.0,207.5 L641.2,205.6 L642.5,202.5 L643.8,200.6 L645.0,200.0 L646.2,200.2 L647.5,202.5 L648.8,199.2 L650.0,197.5 L651.2,199.3 L652.5,202.5 L653.8,205.5 L655.0,210.0 L656.2,213.8 L657.5,217.5 L658.8,225.0 L660.0,222.5 L661.2,217.5 L662.5,215.0 L663.8,220.0 L665.0,235.0 L666.2,242.5 L667.5,255.0 L668.8,265.0 L670.0,252.5 L671.2,260.0 L672.5,255.0 L673.8,251.2 L675.0,247.5 L676.2,240.0 L677.5,238.3 L678.8,237.5 L680.0,240.0 L681.2,245.4 L682.5,250.0 L683.8,245.0 L685.0,252.5 L686.2,248.0 L687.5,245.0 L688.8,247.3 L690.0,247.5 L691.2,237.5 L692.5,240.0 L693.8,245.0 L695.0,245.0 L696.2,253.7 L697.5,260.0 L698.8,265.6 L700.0,270.0 L701.2,275.0 L702.5,262.5 L703.8,259.8 L705.0,257.5 L706.2,258.8 L707.5,260.0 L708.8,259.0 L710.0,257.5 L711.2,257.6 L712.5,260.0 L713.8,261.0 L715.0,262.5 L716.2,266.3 L717.5,270.0 L718.8,270.4 L720.0,272.5 L721.2,273.9 L722.5,277.5 L723.8,279.5 L725.0,280.0 L726.2,282.2 L727.5,285.0 L728.8,280.0 L730.0,275.0 L731.2,273.6 L732.5,270.0 L733.8,265.0 L735.0,260.0 L736.2,257.8 L737.5,255.0 L738.8,250.7 L740.0,247.5 L741.2,247.5 L742.5,245.0 L743.8,247.2 L745.0,250.0 L746.2,248.7 L747.5,250.0 L748.8,251.7 L750.0,252.5 L751.2,254.0 L752.5,257.5 L753.8,253.2 L755.0,250.0 L756.2,244.6 L757.5,237.5 L758.8,234.2 L760.0,230.0 L761.2,235.0 L762.5,237.5 L763.8,237.5 L765.0,240.0 L766.2,242.4 L767.5,245.0 L768.8,244.8 L770.0,245.0 L771.2,246.2 L772.5,247.5 L773.8,251.7 L775.0,257.5 L776.2,255.0 L777.5,262.5 L778.8,261.5 L780.0,260.0 L781.2,257.6 L782.5,257.5 L783.8,253.2 L785.0,250.0 L786.2,250.9 L787.5,252.5 L788.8,252.4 L790.0,250.0 L791.2,251.4 L792.5,255.0 L793.8,256.9 L795.0,257.5 L796.2,253.0 L797.5,250.0 L798.8,247.7 L800.0,245.0 L801.2,242.2 L802.5,240.0 L803.8,238.7 L805.0,237.5 L806.2,239.4 L807.5,240.0 L808.8,238.5 L810.0,237.5 L811.2,237.8 L812.5,240.0 L813.8,240.3 L815.0,242.5 L816.2,238.9 L817.5,237.5 L818.8,237.2 L820.0,235.0 L821.2,230.4 L822.5,225.0 L823.8,222.4 L825.0,217.5 L826.2,219.3 L827.5,220.0 L828.8,217.5 L830.0,217.5 L831.2,219.2 L832.5,220.0 L833.8,212.5 L835.0,222.5 L836.2,220.7 L837.5,217.5 L838.8,214.3 L840.0,210.0 L841.2,207.5 L842.5,205.0 L843.8,205.9 L845.0,207.5 L846.2,209.9 L847.5,212.5 L848.8,209.5 L850.0,205.0 L851.2,203.1 L852.5,202.5 L853.8,201.3 L855.0,200.0 L856.2,201.2 L857.5,202.5 L858.8,204.9 L860.0,205.0 L861.2,207.0 L862.5,207.5 L863.8,202.5 L865.0,202.5 L866.2,204.9 L867.5,205.0 L868.8,204.6 L870.0,202.5 L871.2,194.5 L872.5,187.5 L873.8,184.3 L875.0,182.5 L876.2,181.8 L877.5,181.2 L878.8,181.9 L880.0,183.8 L881.2,184.2 L882.5,185.0 L883.8,185.5 L885.0,185.0 L886.2,187.3 L887.5,187.5 L888.8,187.1 L890.0,186.2 L891.2,187.5 L892.5,192.5 L893.8,199.6 L895.0,205.0 L896.2,205.2 L897.5,207.5 L898.8,205.9 L900.0,205.0 L901.2,212.5 L902.5,217.5 L903.8,214.1 L905.0,212.5 L906.2,211.0 L907.5,210.0 L908.8,207.6 L910.0,207.5 L911.2,205.2 L912.5,205.0 L913.8,207.3 L915.0,207.5 L916.2,211.3 L917.5,212.5 L918.8,211.6 L920.0,210.0 L921.2,201.5 L922.5,195.0 L923.8,193.2 L925.0,192.5 L926.2,193.1 L927.5,195.0 L928.8,190.0 L930.0,212.5 L931.2,195.0 L932.5,190.0 L933.8,192.9 L935.0,195.0 L936.2,196.7 L937.5,197.5 L938.8,196.1 L940.0,195.0 L941.2,193.8 L942.5,192.5 L943.8,191.5 L945.0,192.5 L946.2,193.9 L947.5,195.0 L948.8,194.9 L950.0,192.5 L951.2,191.9 L952.5,190.0 L953.8,189.0 L955.0,190.0 L956.2,191.3 L957.5,192.5 L958.8,195.6 L960.0,197.5 L961.2,200.6 L962.5,205.0 L963.8,204.8 L965.0,202.5 L966.2,199.9 L967.5,197.5 L968.8,199.3 L970.0,200.0 L971.2,201.0 L972.5,202.5 L973.8,201.3 L975.0,197.5 L976.2,199.5 L977.5,200.0 L978.8,206.4 L980.0,212.5 L981.2,215.3 L982.5,220.0 L983.8,218.6 L985.0,217.5 L986.2,215.0 L987.5,215.0 L988.8,214.0 L990.0,212.5 L991.2,214.7 L992.5,215.0 L993.8,211.7 L995.0,210.0 L996.2,207.5 L997.5,205.0 L998.8,205.6 L1000.0,206.2 L1001.2,215.4 L1002.5,225.0 L1003.8,226.2 L1005.0,226.2 L1006.2,228.0 L1007.5,227.5 L1008.8,235.0" fill="none" stroke="#707070" stroke-width="1.15" stroke-linejoin="round"/>
<line x1="69" x2="1017" y1="269.16" y2="269.16" stroke="#333" stroke-width="2"/>
<g><path d="M893,563 L891.5,569 L899,565.5 Z" fill="#fff" stroke="#8a8a8a" stroke-width="1.1" stroke-linejoin="round"/><ellipse cx="902.4" cy="553.5" rx="15.2" ry="12.3" fill="#fff" stroke="#8a8a8a" stroke-width="1.1"/><path d="M893,563 L891.5,569 L899,565.5 " fill="#fff" stroke="none"/><path d="M895.6,549.2 a1.3,1.3 0 0 1 2.6,0" fill="none" stroke="#8a8a8a" stroke-width="0.9"/><path d="M907.5,549.2 a1.3,1.3 0 0 1 2.6,0" fill="none" stroke="#8a8a8a" stroke-width="0.9"/><path d="M921,573 L926.5,576.5 L925.5,570 Z" fill="#fff" stroke="#8a8a8a" stroke-width="1.1" stroke-linejoin="round"/><ellipse cx="916.8" cy="563.6" rx="13.4" ry="12.1" fill="#fff" stroke="#8a8a8a" stroke-width="1.1"/><path d="M921,573 L926.5,576.5 L925.5,570 " fill="#fff" stroke="none"/><path d="M911.2,559.4 a1.3,1.3 0 0 1 2.6,0" fill="none" stroke="#8a8a8a" stroke-width="0.9"/><path d="M920.3000000000001,559.4 a1.3,1.3 0 0 1 2.6,0" fill="none" stroke="#8a8a8a" stroke-width="0.9"/></g>
<g fill="none" stroke-linecap="round" stroke-linejoin="round"><path d="M938.5,559.8 L962.5,559.3" stroke="#808080" stroke-width="2.8"/><path d="M970,548.5 L967,554.5 L972,553.5 L967.5,561 L973.5,559 M966.5,569 L974,565" stroke="#808080" stroke-width="2.8"/><path d="M976,553 L987,551.5 M975.5,559 L988,557 M978,548.5 C980,560 983,567 989,571.5 M985,548 L987,550 M988,561 L982,568.5" stroke="#808080" stroke-width="2.8"/><path d="M996.5,548.5 L993.5,554.5 L998.5,553.5 L994.0,561 L1000.0,559 M993.0,569 L1000.5,565" stroke="#808080" stroke-width="2.8"/><path d="M1003.5,550 L1014.5,549.5 L1005.5,558 M1007.5,553 L1016.5,558.5 M1004.5,562 L1014.5,561.5 M1009.5,562 L1009.5,570 M1002.5,570.5 L1017.0,570" stroke="#808080" stroke-width="2.8"/><path d="M1021,549.5 L1023,551.5 M1020,555.5 L1022,557.5 M1020,571 L1024,561" stroke="#808080" stroke-width="2.8"/><path d="M1034.5,547.5 L1035.5,549.5 M1027.5,551 L1043,550.5 M1030,553 C1033,557 1037,559.5 1043,561 M1040,553 C1037,557.5 1033,560 1028,561.5 M1032,562 C1032,566 1031,569 1028.5,572 M1039.5,561.5 L1039.5,572" stroke="#808080" stroke-width="2.8"/><path d="M938.5,559.8 L962.5,559.3" stroke="#fff" stroke-width="1.1"/><path d="M970,548.5 L967,554.5 L972,553.5 L967.5,561 L973.5,559 M966.5,569 L974,565" stroke="#fff" stroke-width="1.1"/><path d="M976,553 L987,551.5 M975.5,559 L988,557 M978,548.5 C980,560 983,567 989,571.5 M985,548 L987,550 M988,561 L982,568.5" stroke="#fff" stroke-width="1.1"/><path d="M996.5,548.5 L993.5,554.5 L998.5,553.5 L994.0,561 L1000.0,559 M993.0,569 L1000.5,565" stroke="#fff" stroke-width="1.1"/><path d="M1003.5,550 L1014.5,549.5 L1005.5,558 M1007.5,553 L1016.5,558.5 M1004.5,562 L1014.5,561.5 M1009.5,562 L1009.5,570 M1002.5,570.5 L1017.0,570" stroke="#fff" stroke-width="1.1"/><path d="M1021,549.5 L1023,551.5 M1020,555.5 L1022,557.5 M1020,571 L1024,561" stroke="#fff" stroke-width="1.1"/><path d="M1034.5,547.5 L1035.5,549.5 M1027.5,551 L1043,550.5 M1030,553 C1033,557 1037,559.5 1043,561 M1040,553 C1037,557.5 1033,560 1028,561.5 M1032,562 C1032,566 1031,569 1028.5,572 M1039.5,561.5 L1039.5,572" stroke="#fff" stroke-width="1.1"/></g>
<g transform="translate(825.34912,487.5872) scale(0.3232,0.298)" fill="none" stroke="#111" stroke-width="7.9"><path d="M395.6,293 V337 C395.6,343 389,341.6 381.5,341.6 C375,341.6 370,340 367.5,336.5"/><path d="M367.6,313.3 a14.2,16.3 0 1 0 28.4,0 a14.2,16.3 0 1 0 -28.4,0"/><path d="M417.2,277.7 V333.6"/><path d="M463.4,293 V333.6 M433.2,313.3 a15.1,16.3 0 1 0 30.2,0 a15.1,16.3 0 1 0 -30.2,0"/><path d="M499.9,304.3 C498.4,299.3 493.4,297.3 489.4,297.3 C482.4,297.3 479.4,300.3 479.4,304.8 C479.4,310.3 485.4,311.8 489.4,313.3 C494.4,314.8 499.4,316.3 499.4,321.8 C499.4,326.8 493.4,329.3 489.4,329.3 C481.4,329.3 478.4,326.3 477.9,323.3"/><path d="M531.4,304.3 C529.9,299.3 524.9,297.3 520.9,297.3 C513.9,297.3 510.9,300.3 510.9,304.8 C510.9,310.3 516.9,311.8 520.9,313.3 C525.9,314.8 530.9,316.3 530.9,321.8 C530.9,326.8 524.9,329.3 520.9,329.3 C512.9,329.3 509.9,326.3 509.4,323.3"/><path d="M548.3,293 V333.6 M548.3,315.3 C548.3,303.3 554,297.0 561.2,297.0 C568.5,297.0 574.2,303.3 574.2,315.3 V333.6"/><path d="M588.4000000000001,313.3 a16.8,16.3 0 1 0 33.6,0 a16.8,16.3 0 1 0 -33.6,0"/><path d="M668.1,280.5 V333.6 M633.9,313.3 a17,16.3 0 1 0 34,0 a17,16.3 0 1 0 -34,0"/><path d="M681.9,312.8 H713 C713,303.3 706,297.0 697.45,297.0 C688.5,297.0 682.1,304.3 682.1,313.3 C682.1,322.3 688.5,329.6 697.45,329.6 C703.5,329.6 708,326.8 710.5,323.3"/></g>
</svg>
</body></html>
